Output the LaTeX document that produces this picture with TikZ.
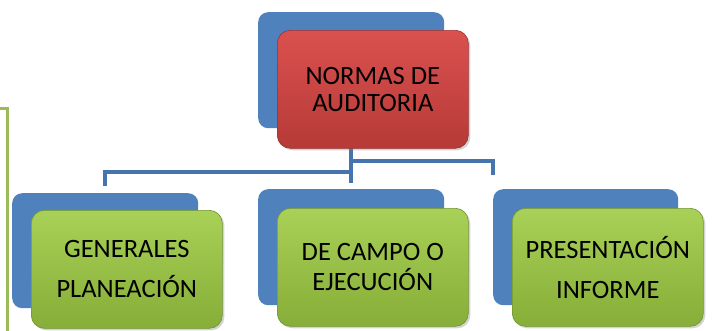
\documentclass[tikz,border=0pt]{standalone}
\usepackage{fontspec}
\setmainfont{Carlito}
\usepackage{tikz}
\usetikzlibrary{shadows, positioning, calc}

\definecolor{azulfondo}{HTML}{4F81BD}
\definecolor{azullinea}{HTML}{4674AD}
\definecolor{verdeclaro}{HTML}{A9D157}
\definecolor{verdemedio}{HTML}{9BC64A}
\definecolor{verdeoscuro}{HTML}{86AE38}
\definecolor{rojoclaro}{HTML}{DA514F}
\definecolor{rojomedio}{HTML}{CF4745}
\definecolor{rojooscuro}{HTML}{B63A37}
\definecolor{verdelinea}{HTML}{9BBB59}

\begin{document}
\begin{tikzpicture}[x=1pt, y=-1pt,
  fondo/.style={fill=azulfondo, rounded corners=10pt, anchor=north west, minimum width=186pt, minimum height=116pt},
  caja/.style={rounded corners=13pt, anchor=north west, minimum width=191pt, minimum height=118pt, align=center,
    draw=#1!85!black, line width=0.6pt, drop shadow={opacity=0.35, shadow xshift=2pt, shadow yshift=-2pt},
    font=\fontsize{26.5}{40}\selectfont},
  verde/.style={caja=verdeoscuro, top color=verdeclaro, middle color=verdemedio, bottom color=verdeoscuro},
  rojo/.style={caja=rojooscuro, top color=rojoclaro, middle color=rojomedio, bottom color=rojooscuro},
  conector/.style={draw=azullinea, line width=4pt},
  corchete/.style={draw=verdelinea, line width=3pt}]
\useasboundingbox (0,0) rectangle (712,330);
\draw[corchete] (0,108) -| (7,335);
% fondos azules
\node[fondo] (fondoN) at (258,12) {};
\node[fondo, minimum height=115pt] (fondoG) at (12,193) {};
\node[fondo] (fondoC) at (258,189) {};
\node[fondo, minimum width=185pt] (fondoP) at (493,189) {};
% conectores
\coordinate (rama1) at (351,172);
\coordinate (rama2) at (351,161);
\draw[conector] (fondoN.south) -- ([yshift=6pt]fondoC.north);
\draw[conector] ([yshift=7pt]fondoG.north) |- (rama1);
\draw[conector] (rama2) -| ([yshift=14pt]fondoP.north west);
% cajas
\node[rojo, font=\fontsize{26.5}{27}\selectfont, below right=18pt and 19pt of fondoN.north west] (normas) {NORMAS DE\\AUDITORIA};
\node[verde, below right=17pt and 19pt of fondoG.north west] (generales) {GENERALES\\PLANEACIÓN};
\node[verde, font=\fontsize{26.5}{30}\selectfont, below right=19pt and 19pt of fondoC.north west] (campo) {DE CAMPO O\\EJECUCIÓN};
\node[verde, below right=19pt and 19pt of fondoP.north west] (informe) {PRESENTACIÓN\\INFORME};
\end{tikzpicture}
\end{document}
